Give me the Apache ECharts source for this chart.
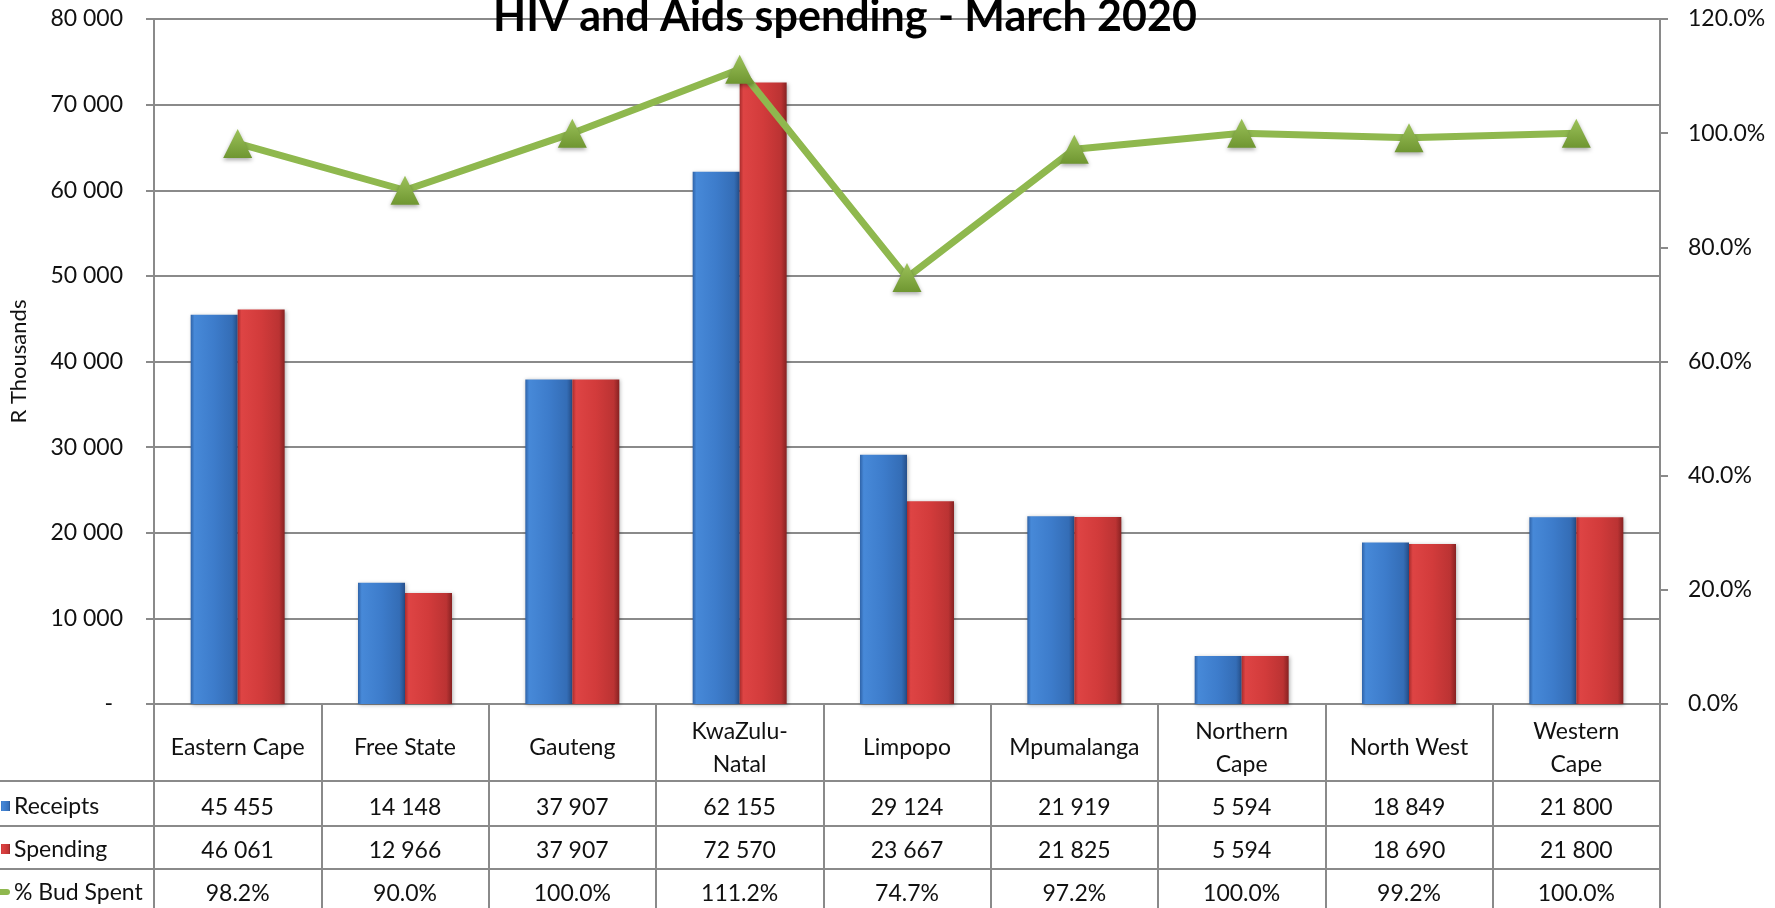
<!DOCTYPE html>
<html>
<head>
<meta charset="utf-8">
<script src="https://cdn.jsdelivr.net/npm/echarts@6/dist/echarts.min.js"></script>
<style>
  html, body { margin: 0; padding: 0; background: #fff; }
  #chart { width: 1775px; height: 908px; }
</style>
</head>
<body>
<div id="chart"></div>
<script>
var categories = ['Eastern Cape', 'Free State', 'Gauteng', 'KwaZulu-\nNatal', 'Limpopo', 'Mpumalanga', 'Northern\nCape', 'North West', 'Western\nCape'];
var receipts = [45455, 14148, 37907, 62155, 29124, 21919, 5594, 18849, 21800];
var spending = [46061, 12966, 37907, 72570, 23667, 21825, 5594, 18690, 21800];
var budSpent = [98.2, 90.0, 100.0, 111.2, 74.7, 97.2, 100.0, 99.2, 100.0];

var FONT = 'Lato';
var gridColor = '#8a8a8a';

// layout
var W = 1775, H = 908;
var gLeft = 150, gRight = 115, gTop = 19, gBottom = 204;
var axisY = H - gBottom;           // 704
var rowTops = [77, 122, 165];      // offsets of table rows below the axis
var rowCenters = [104, 147, 190];

function sp(v) {
  return String(v).replace(/\B(?=(\d{3})+(?!\d))/g, ' ');
}

var blueGrad = new echarts.graphic.LinearGradient(0, 0, 1, 0, [
  { offset: 0, color: '#2f63a8' },
  { offset: 0.08, color: '#4789d8' },
  { offset: 0.5, color: '#3d7ccb' },
  { offset: 0.88, color: '#346db6' },
  { offset: 1, color: '#264f8a' }
]);
var redGrad = new echarts.graphic.LinearGradient(0, 0, 1, 0, [
  { offset: 0, color: '#a92c2c' },
  { offset: 0.08, color: '#de4444' },
  { offset: 0.5, color: '#d23b3b' },
  { offset: 0.88, color: '#bb3333' },
  { offset: 1, color: '#872222' }
]);

var myChart = echarts.init(document.getElementById('chart'));

function rowAxis(idx, values, fmt) {
  return {
    type: 'category',
    gridIndex: 0,
    position: 'bottom',
    offset: rowTops[idx],
    data: categories,
    axisLine: { show: false },
    axisTick: { show: false },
    axisLabel: {
      interval: 0,
      margin: rowCenters[idx] - rowTops[idx],
      verticalAlign: 'middle',
      fontFamily: FONT,
      fontSize: 23,
      color: '#111',
      formatter: function (v, i) { return fmt(values[i]); }
    }
  };
}

var graphics = [];
// horizontal table lines (row tops), full width incl. row-label column
rowTops.forEach(function (o) {
  graphics.push({
    type: 'line',
    shape: { x1: 0, y1: axisY + o, x2: W - gRight, y2: axisY + o },
    style: { stroke: gridColor, lineWidth: 2 },
    z: 10
  });
});
var rowNames = ['Receipts', 'Spending', '% Bud Spent'];
rowNames.forEach(function (n, i) {
  graphics.push({
    type: 'text',
    left: 14,
    top: axisY + rowCenters[i] - 13,
    style: { text: n, font: '23px ' + FONT, fill: '#111', textVerticalAlign: 'top' },
    z: 10
  });
});
graphics.push({
  type: 'rect', shape: { x: 1, y: axisY + rowCenters[0] - 7, width: 9, height: 10 },
  style: { fill: blueGrad }, z: 10
});
graphics.push({
  type: 'rect', shape: { x: 1, y: axisY + rowCenters[1] - 7, width: 9, height: 10 },
  style: { fill: redGrad }, z: 10
});
graphics.push({
  type: 'line', shape: { x1: -2, y1: axisY + rowCenters[2] - 2, x2: 7, y2: axisY + rowCenters[2] - 2 },
  style: { stroke: '#8fb84e', lineWidth: 6, lineCap: 'round' }, z: 10
});

myChart.setOption({
  animation: false,
  title: {
    text: 'HIV and Aids spending - March 2020',
    left: 488,
    top: -9,
    textStyle: { fontFamily: FONT, fontWeight: 'bold', fontSize: 43, color: '#000' }
  },
  grid: { left: gLeft, right: gRight, top: gTop, bottom: gBottom, containLabel: false },
  xAxis: [
    {
      type: 'category',
      data: categories,
      position: 'bottom',
      axisLine: { show: true, lineStyle: { color: gridColor, width: 2 } },
      axisTick: { show: true, interval: 0, length: 210, lineStyle: { color: gridColor, width: 2 } },
      axisLabel: {
        interval: 0,
        margin: 44,
        verticalAlign: 'middle',
        fontFamily: FONT,
        fontSize: 23,
        lineHeight: 33,
        color: '#111'
      },
      splitLine: { show: false }
    },
    rowAxis(0, receipts, sp),
    rowAxis(1, spending, sp),
    rowAxis(2, budSpent, function (v) { return v.toFixed(1) + '%'; })
  ],
  yAxis: [
    {
      type: 'value',
      name: 'R Thousands',
      nameLocation: 'middle',
      nameGap: 124,
      nameRotate: 90,
      nameTextStyle: { fontFamily: FONT, fontSize: 22, color: '#111' },
      min: 0, max: 80000, interval: 10000,
      axisLine: { show: true, lineStyle: { color: gridColor, width: 2 } },
      axisTick: { show: true, length: 8, lineStyle: { color: gridColor, width: 2 } },
      axisLabel: {
        margin: 31,
        fontFamily: FONT, fontSize: 23, color: '#111',
        formatter: function (v) { return v === 0 ? '{d|-}' : sp(v); },
        rich: { d: { fontFamily: FONT, fontSize: 23, color: '#111', padding: [0, 10, 0, 0] } }
      },
      splitLine: { show: true, lineStyle: { color: gridColor, width: 2 } }
    },
    {
      type: 'value',
      position: 'right',
      min: 0, max: 120, interval: 20,
      axisLine: { show: true, lineStyle: { color: gridColor, width: 2 } },
      axisTick: { show: true, length: 8, lineStyle: { color: gridColor, width: 2 } },
      axisLabel: {
        margin: 28,
        fontFamily: FONT, fontSize: 23, color: '#111',
        formatter: function (v) { return v.toFixed(1) + '%'; }
      },
      splitLine: { show: false }
    }
  ],
  series: [
    {
      name: 'Receipts',
      type: 'bar',
      xAxisIndex: 0, yAxisIndex: 0,
      data: receipts,
      barWidth: 47,
      barGap: '0%',
      itemStyle: {
        color: blueGrad,
        shadowColor: 'rgba(0,0,0,0.3)', shadowBlur: 4, shadowOffsetX: 1, shadowOffsetY: 1
      }
    },
    {
      name: 'Spending',
      type: 'bar',
      xAxisIndex: 0, yAxisIndex: 0,
      data: spending,
      barWidth: 47,
      barGap: '0%',
      itemStyle: {
        color: redGrad,
        shadowColor: 'rgba(0,0,0,0.3)', shadowBlur: 4, shadowOffsetX: 1, shadowOffsetY: 1
      }
    },
    {
      name: '% Bud Spent',
      type: 'line',
      xAxisIndex: 0, yAxisIndex: 1,
      data: budSpent,
      symbol: 'triangle',
      symbolSize: [29, 29],
      lineStyle: { color: '#8fb84e', width: 7 },
      itemStyle: {
        color: new echarts.graphic.LinearGradient(0, 0, 0, 1, [
          { offset: 0, color: '#9cc25a' },
          { offset: 1, color: '#6f9631' }
        ]),
        shadowColor: 'rgba(0,0,0,0.35)', shadowBlur: 4, shadowOffsetY: 2
      },
      z: 5
    }
  ],
  graphic: graphics
});
</script>
</body>
</html>
